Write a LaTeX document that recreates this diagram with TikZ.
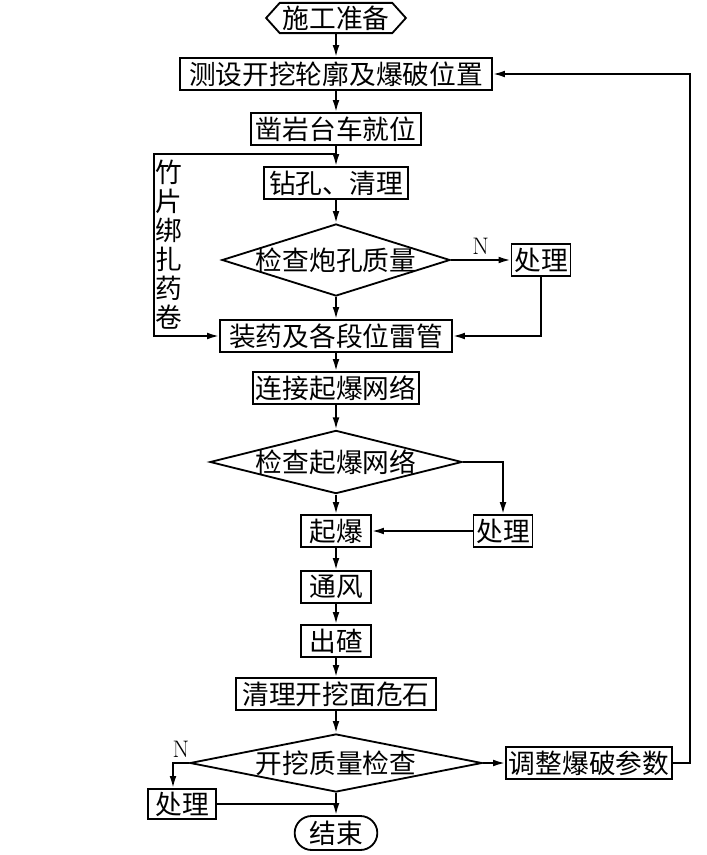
\documentclass[tikz,border=0pt]{standalone}
\usepackage{fontspec}
\newfontfamily\cjk{Noto Sans CJK SC}
\usetikzlibrary{arrows.meta,shapes.geometric,shapes.misc,shapes.symbols}

\begin{document}
\begin{tikzpicture}[
    x=0.025cm, y=-0.025cm,
    every node/.style={font=\cjk\fontsize{19pt}{22pt}\selectfont},
    box/.style={rectangle, draw, line width=1.3pt, minimum height=0.8cm, inner sep=2pt},
    check/.style={diamond, draw, line width=1.3pt, inner sep=0pt},
    startbox/.style={signal, signal to=west and east, signal pointer angle=96, draw, line width=1.3pt, minimum height=0.72cm, inner sep=2pt},
    endbox/.style={rounded rectangle, draw, line width=1.3pt, minimum height=0.75cm},
    arrow/.style={-{Latex[length=3mm,width=1.7mm]}, line width=1.3pt},
    line/.style={line width=1.3pt},
    ntext/.style={font=\normalfont\fontsize{17pt}{19pt}\selectfont}
]
\useasboundingbox (0,0) rectangle (706,855);
% Start
\node[startbox, minimum width=3.1cm] (start) at (336,18) {施工准备};
% Main column
\node[box, minimum width=7.8cm] (survey) at (336,74) {测设开挖轮廓及爆破位置};
\node[box, minimum width=4.25cm] (rig) at (336,129) {凿岩台车就位};
\node[box, minimum width=3.6cm] (drill) at (336,183) {钻孔、清理};
\node[check, minimum width=5.7cm, minimum height=1.8cm, label=center:{检查炮孔质量}] (chk1) at (336,260) {};
\node[box, minimum width=5.8cm] (charge) at (336,336) {装药及各段位雷管};
\node[box, minimum width=4.15cm] (connect) at (336,388) {连接起爆网络};
\node[check, minimum width=6.3cm, minimum height=1.58cm, label=center:{检查起爆网络}] (chk2) at (336,462) {};
\node[box, minimum width=1.75cm] (blast) at (336,531) {起爆};
\node[box, minimum width=1.75cm] (vent) at (336,587) {通风};
\node[box, minimum width=1.75cm] (muck) at (336,641) {出碴};
\node[box, minimum width=5cm] (scale) at (336,694) {清理开挖面危石};
\node[check, minimum width=7.3cm, minimum height=1.45cm, label=center:{开挖质量检查}] (chk3) at (336,763) {};
\node[endbox, minimum width=2.3cm] (end) at (336,833) {结束};
% Side boxes
\node[box, minimum width=1.45cm] (fix1) at (541,260) {处理};
\node[box, minimum width=1.45cm] (fix2) at (503,531) {处理};
\node[box, minimum width=4.15cm] (adjust) at (589,763) {调整爆破参数};
\node[box, minimum width=1.7cm, minimum height=0.7cm] (fix3) at (182,804) {处理};
% Vertical note
\node[align=center, inner sep=0pt, font=\cjk\fontsize{19pt}{20.6pt}\selectfont] (bamboo) at (169,245) {竹\\片\\绑\\扎\\药\\卷};

% Helper points
\coordinate (tj) at (336,154);
\coordinate (tl) at (154,154);
\coordinate (nl) at (173,763);
\coordinate (bj) at (336,804);
\coordinate (rt) at (690,763);

% Main flow
\draw[arrow] (start) -- (survey);
\draw[arrow] (survey) -- (rig);
\draw[arrow] (rig) -- (drill);
\draw[arrow] (drill) -- (chk1);
\draw[arrow] (chk1) -- (charge);
\draw[arrow] (charge) -- (connect);
\draw[arrow] (connect) -- (chk2);
\draw[arrow] (chk2) -- (blast);
\draw[arrow] (blast) -- (vent);
\draw[arrow] (vent) -- (muck);
\draw[arrow] (muck) -- (scale);
\draw[arrow] (scale) -- (chk3);
\draw[arrow] (chk3) -- (end);

% Branches
\draw[arrow] (tj) -- (tl) |- (charge);
\draw[arrow] (chk1) -- (fix1) node[midway, above, ntext] {N};
\draw[arrow] (fix1) |- (charge);
\draw[arrow] (chk2) -| (fix2);
\draw[arrow] (fix2) -- (blast);
\draw[arrow] (chk3) -- (adjust);
\draw[arrow] (adjust) -- (rt) |- (survey);
\draw[arrow] (chk3) -- (nl) node[midway, above, ntext] {N} -- (nl |- fix3.north);
\draw[line] (fix3) -- (bj);
\end{tikzpicture}
\end{document}
